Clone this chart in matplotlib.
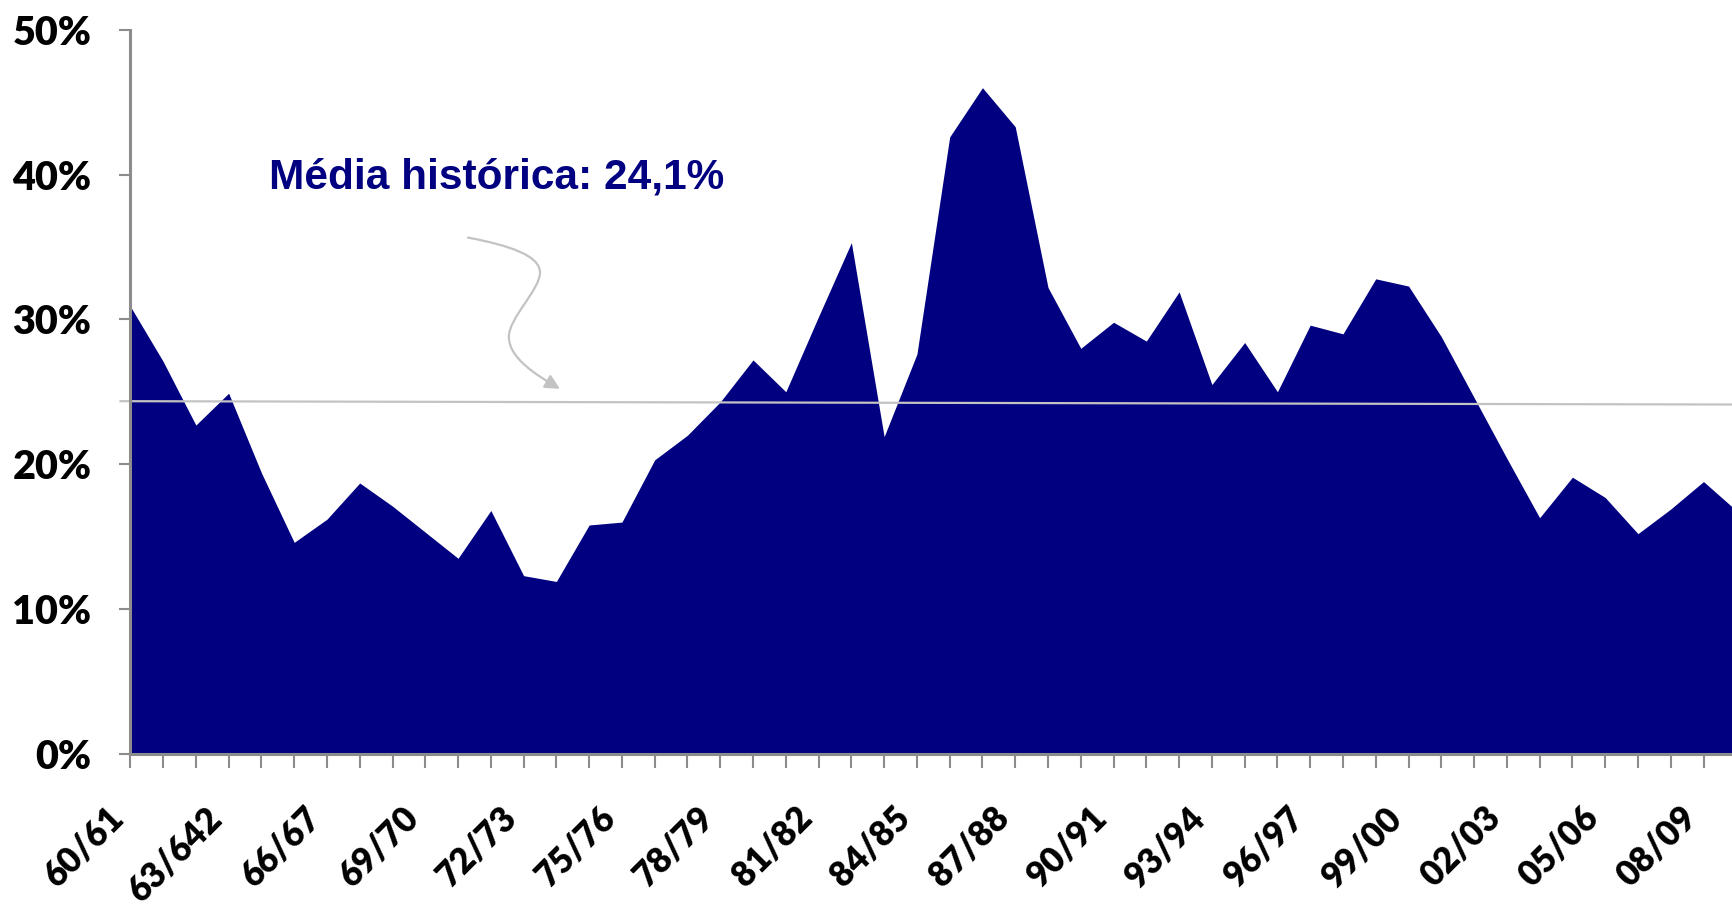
import matplotlib
matplotlib.use("Agg")
import matplotlib.pyplot as plt
from matplotlib.path import Path
from matplotlib.patches import FancyArrowPatch

# ---- Data (share, %) per crop season ----
seasons = [f"{y % 100:02d}/{(y + 1) % 100:02d}" for y in range(1960, 2010)]
values = [
    30.9, 27.1, 22.7, 24.9, 19.4, 14.6, 16.2, 18.7, 17.1, 15.3,
    13.5, 16.8, 12.3, 11.9, 15.8, 16.0, 20.3, 22.0, 24.3, 27.2,
    25.0, 30.2, 35.3, 21.9, 27.6, 42.6, 46.0, 43.3, 32.2, 28.0,
    29.8, 28.5, 31.9, 25.5, 28.4, 25.0, 29.6, 29.0, 32.8, 32.3,
    28.8, 24.6, 20.4, 16.3, 19.1, 17.7, 15.2, 16.9, 18.8, 16.8,
]
tick_labels = ["60/61", "63/642", "66/67", "69/70", "72/73", "75/76",
               "78/79", "81/82", "84/85", "87/88", "90/91", "93/94",
               "96/97", "99/00", "02/03", "05/06", "08/09"]
yticks = [0, 10, 20, 30, 40, 50]
mean_label = "Média histórica: 24,1%"
mean_line = [24.35, 24.12]   # drawn line, slightly tilted as in the slide

NAVY = "#000080"
GREY = "#8c8c8c"
LIGHT = "#c3c3c3"

fig = plt.figure(figsize=(17.33, 9.13), dpi=100)
ax = fig.add_axes([0.0752, 0.1744, 0.9248, 0.7930])

x = list(range(len(values)))
ax.fill_between(x, values, 0, color=NAVY, linewidth=0, zorder=2)

ax.set_xlim(0, 48.9)
ax.set_ylim(0, 50)

# average line (extends a little left of the axis)
ax.plot([-0.3, 48.9], mean_line, color=LIGHT, lw=1.6, zorder=3, clip_on=False)

# axes styling
for side in ["top", "right"]:
    ax.spines[side].set_visible(False)
for side in ["left", "bottom"]:
    ax.spines[side].set_color(GREY)
    ax.spines[side].set_linewidth(2.2)
    ax.spines[side].set_zorder(4)

ax.set_yticks(yticks)
ax.set_yticklabels([f"{v}%" for v in yticks], fontfamily="Lato",
                   fontweight="heavy", fontsize=28.5)
ax.tick_params(axis="y", direction="out", length=8, width=1.5, color=GREY, pad=20)

ax.set_xticks(x[:49], minor=True)
ax.set_xticks(x[:49:3])
ax.set_xticklabels(tick_labels, rotation=45, ha="right", rotation_mode="default",
                   fontfamily="Lato", fontweight="heavy", fontsize=25)
ax.tick_params(axis="x", which="both", direction="out", length=10, width=1.5,
               color=GREY, pad=24)

# annotation text
ax.text(4.23, 39.03, mean_label, color=NAVY, fontsize=30.5, fontweight="bold",
        fontfamily="Liberation Sans", va="baseline", ha="left")

# curved arrow pointing at the average line
verts = [(10.30, 35.65), (11.58, 35.10), (12.50, 34.40), (12.50, 33.23),
         (12.50, 32.05), (11.55, 30.10), (11.55, 28.80),
         (11.55, 27.35), (12.35, 26.20), (13.11, 25.20)]
codes = [Path.MOVETO] + [Path.CURVE4] * 9
arrow = FancyArrowPatch(path=Path(verts, codes), arrowstyle="-|>",
                        mutation_scale=22, color=LIGHT, lw=1.6, zorder=5)
ax.add_patch(arrow)

fig.savefig("out.png", dpi=100)
